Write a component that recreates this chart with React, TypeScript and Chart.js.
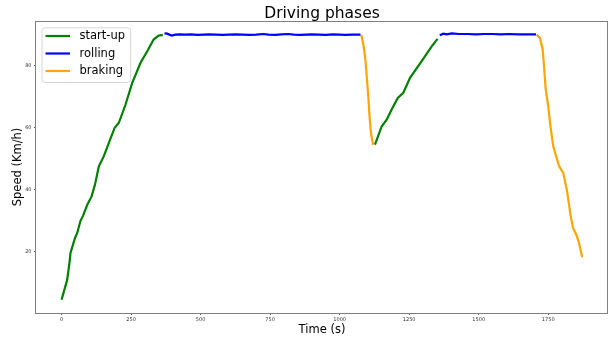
import React, { useEffect, useRef } from 'react';
import { Chart, registerables } from 'chart.js';

Chart.register(...registerables);

const chartTitle = 'Driving phases';
const xAxisLabel = 'Time (s)';
const yAxisLabel = 'Speed (Km/h)';
const seriesNames = ['start-up', 'rolling', 'braking'];
const seriesColors = ['#008000', '#0000ff', '#ffa500'];
const xTickValues = [0, 250, 500, 750, 1000, 1250, 1500, 1750];
const yTickValues = [20, 40, 60, 80];

const startup1Time = [0, 20, 29, 32, 48, 56, 68, 77, 92, 108, 120, 134, 152, 170, 191, 206, 230, 254, 284, 308, 331, 349, 364];
const startup1Speed = [4.4, 10.8, 16.8, 19.5, 24.3, 25.9, 29.9, 31.5, 35.0, 37.8, 41.6, 47.5, 50.8, 55.1, 60.0, 61.6, 67.5, 74.5, 81.0, 84.7, 88.5, 89.8, 90.0];

const rolling1Time = [370, 380, 395, 410, 425, 445, 465, 490, 510, 530, 555, 580, 600, 625, 650, 675, 700, 725, 745, 770, 790, 815, 835, 860, 880, 900, 925, 950, 975, 1000, 1020, 1045, 1075];
const rolling1Speed = [90.5, 90.4, 89.8, 90.1, 90.2, 90.1, 90.2, 90.0, 90.1, 90.2, 90.1, 90.0, 90.1, 90.2, 90.1, 90.0, 90.1, 90.3, 90.1, 90.0, 90.2, 90.3, 90.1, 90.0, 90.1, 90.2, 90.1, 90.0, 90.2, 90.1, 90.0, 90.1, 90.1];

const braking1Time = [1078, 1086, 1092, 1098, 1103, 1108, 1113, 1120];
const braking1Speed = [90.0, 86.5, 82.5, 76.0, 70.0, 63.0, 58.0, 54.5];

const startup2Time = [1127, 1151, 1169, 1187, 1209, 1229, 1253, 1295, 1331, 1352];
const startup2Speed = [54.5, 60.4, 62.6, 65.9, 69.6, 71.3, 76.1, 81.5, 86.3, 88.7];

const rolling2Time = [1360, 1373, 1385, 1403, 1430, 1460, 1490, 1520, 1550, 1580, 1610, 1640, 1670, 1706];
const rolling2Speed = [89.9, 90.4, 90.2, 90.5, 90.3, 90.3, 90.2, 90.3, 90.3, 90.2, 90.3, 90.2, 90.2, 90.2];

const braking2Time = [1708, 1720, 1730, 1734, 1741, 1750, 1758, 1768, 1780, 1789, 1804, 1818, 1830, 1839, 1851, 1861, 1872];
const braking2Speed = [90.1, 89.1, 85.3, 81.0, 72.4, 67.0, 60.5, 54.1, 50.3, 47.6, 45.4, 39.4, 31.9, 27.6, 25.4, 22.7, 18.1];

const FONT = '"DejaVu Sans", sans-serif';

function zip(t: number[], v: number[]) {
  return t.map((x, i) => ({ x, y: v[i] as number | null }));
}
function joinSegments(a: { x: number; y: number | null }[], b: { x: number; y: number | null }[]) {
  const gapX = (a[a.length - 1].x + b[0].x) / 2;
  return [...a, { x: gapX, y: null }, ...b];
}

const overlayPlugin = {
  id: 'overlay',
  afterDraw(chart: any) {
    const { ctx, chartArea } = chart;
    const { left, right, top, bottom } = chartArea;
    ctx.save();
    // frame
    ctx.strokeStyle = '#808080';
    ctx.lineWidth = 1;
    ctx.strokeRect(Math.round(left) - 0.5, Math.round(top) + 0.5, Math.round(right - left), Math.round(bottom - top));
    // title
    ctx.fillStyle = '#000';
    ctx.textAlign = 'center';
    ctx.textBaseline = 'alphabetic';
    ctx.font = `15.5px ${FONT}`;
    const cx = (left + right) / 2;
    ctx.fillText(chartTitle, cx, 18);
    // x label
    ctx.font = `11.5px ${FONT}`;
    ctx.fillText(xAxisLabel, cx, 333);
    // y label
    ctx.save();
    ctx.translate(20.5, (top + bottom) / 2);
    ctx.rotate(-Math.PI / 2);
    ctx.fillText(yAxisLabel, 0, 0);
    ctx.restore();
    // legend
    const lx = left + 5.5;
    const ly = top + 6.3;
    const lw = 88.7;
    const lh = 54.7;
    ctx.beginPath();
    if ((ctx as any).roundRect) {
      (ctx as any).roundRect(lx + 0.5, ly + 0.5, lw, lh, 3);
    } else {
      ctx.rect(lx + 0.5, ly + 0.5, lw, lh);
    }
    ctx.fillStyle = 'rgba(255,255,255,0.8)';
    ctx.fill();
    ctx.strokeStyle = '#d6d6d6';
    ctx.lineWidth = 1;
    ctx.stroke();
    ctx.font = `11.5px ${FONT}`;
    ctx.textAlign = 'left';
    ctx.textBaseline = 'middle';
    seriesNames.forEach((name, i) => {
      const yy = top + 15 + i * 17.5;
      ctx.strokeStyle = seriesColors[i];
      ctx.lineWidth = 2.2;
      ctx.beginPath();
      ctx.moveTo(left + 9.5, yy);
      ctx.lineTo(left + 34, yy);
      ctx.stroke();
      ctx.fillStyle = '#000';
      ctx.fillText(name, left + 43.5, yy + 0.5);
    });
    ctx.restore();
  },
};

export default function App() {
  const canvasRef = useRef<HTMLCanvasElement | null>(null);

  useEffect(() => {
    document.body.style.margin = '0';
    const canvas = canvasRef.current;
    if (!canvas) return;
    const datasets = [
      { label: seriesNames[0], data: joinSegments(zip(startup1Time, startup1Speed), zip(startup2Time, startup2Speed)), borderColor: seriesColors[0] },
      { label: seriesNames[1], data: joinSegments(zip(rolling1Time, rolling1Speed), zip(rolling2Time, rolling2Speed)), borderColor: seriesColors[1] },
      { label: seriesNames[2], data: joinSegments(zip(braking1Time, braking1Speed), zip(braking2Time, braking2Speed)), borderColor: seriesColors[2] },
    ].map((d) => ({ ...d, borderWidth: 2.2, pointRadius: 0, tension: 0, fill: false, spanGaps: false }));

    const chart = new Chart(canvas, {
      type: 'line',
      data: { datasets } as any,
      options: {
        responsive: false,
        animation: false,
        devicePixelRatio: 1,
        layout: { padding: { top: 21, right: 2, left: 0, bottom: 0 } },
        plugins: { legend: { display: false }, title: { display: false }, tooltip: { enabled: false } },
        scales: {
          x: {
            type: 'linear',
            min: -92,
            max: 1965,
            border: { display: false },
            grid: { display: true, drawOnChartArea: false, drawTicks: true, tickLength: 2, color: '#555' },
            ticks: { font: { family: FONT, size: 5 }, color: '#333', padding: 2, maxRotation: 0, autoSkip: false, callback: (v: any) => String(v) },
            afterBuildTicks: (s: any) => { s.ticks = xTickValues.map((v) => ({ value: v })); },
            afterFit: (s: any) => { s.height = 26; },
          },
          y: {
            type: 'linear',
            min: 0.1,
            max: 94.5,
            border: { display: false },
            grid: { display: true, drawOnChartArea: false, drawTicks: true, tickLength: 2, color: '#555' },
            ticks: { font: { family: FONT, size: 5 }, color: '#333', padding: 2.5, autoSkip: false, callback: (v: any) => String(v) },
            afterBuildTicks: (s: any) => { s.ticks = yTickValues.map((v) => ({ value: v })); },
            afterFit: (s: any) => { s.width = 36; },
          },
        },
      } as any,
      plugins: [overlayPlugin],
    });
    return () => chart.destroy();
  }, []);

  return (
    <div style={{ width: 610, height: 339 }}>
      <canvas ref={canvasRef} width={610} height={339} style={{ display: 'block' }} />
    </div>
  );
}
